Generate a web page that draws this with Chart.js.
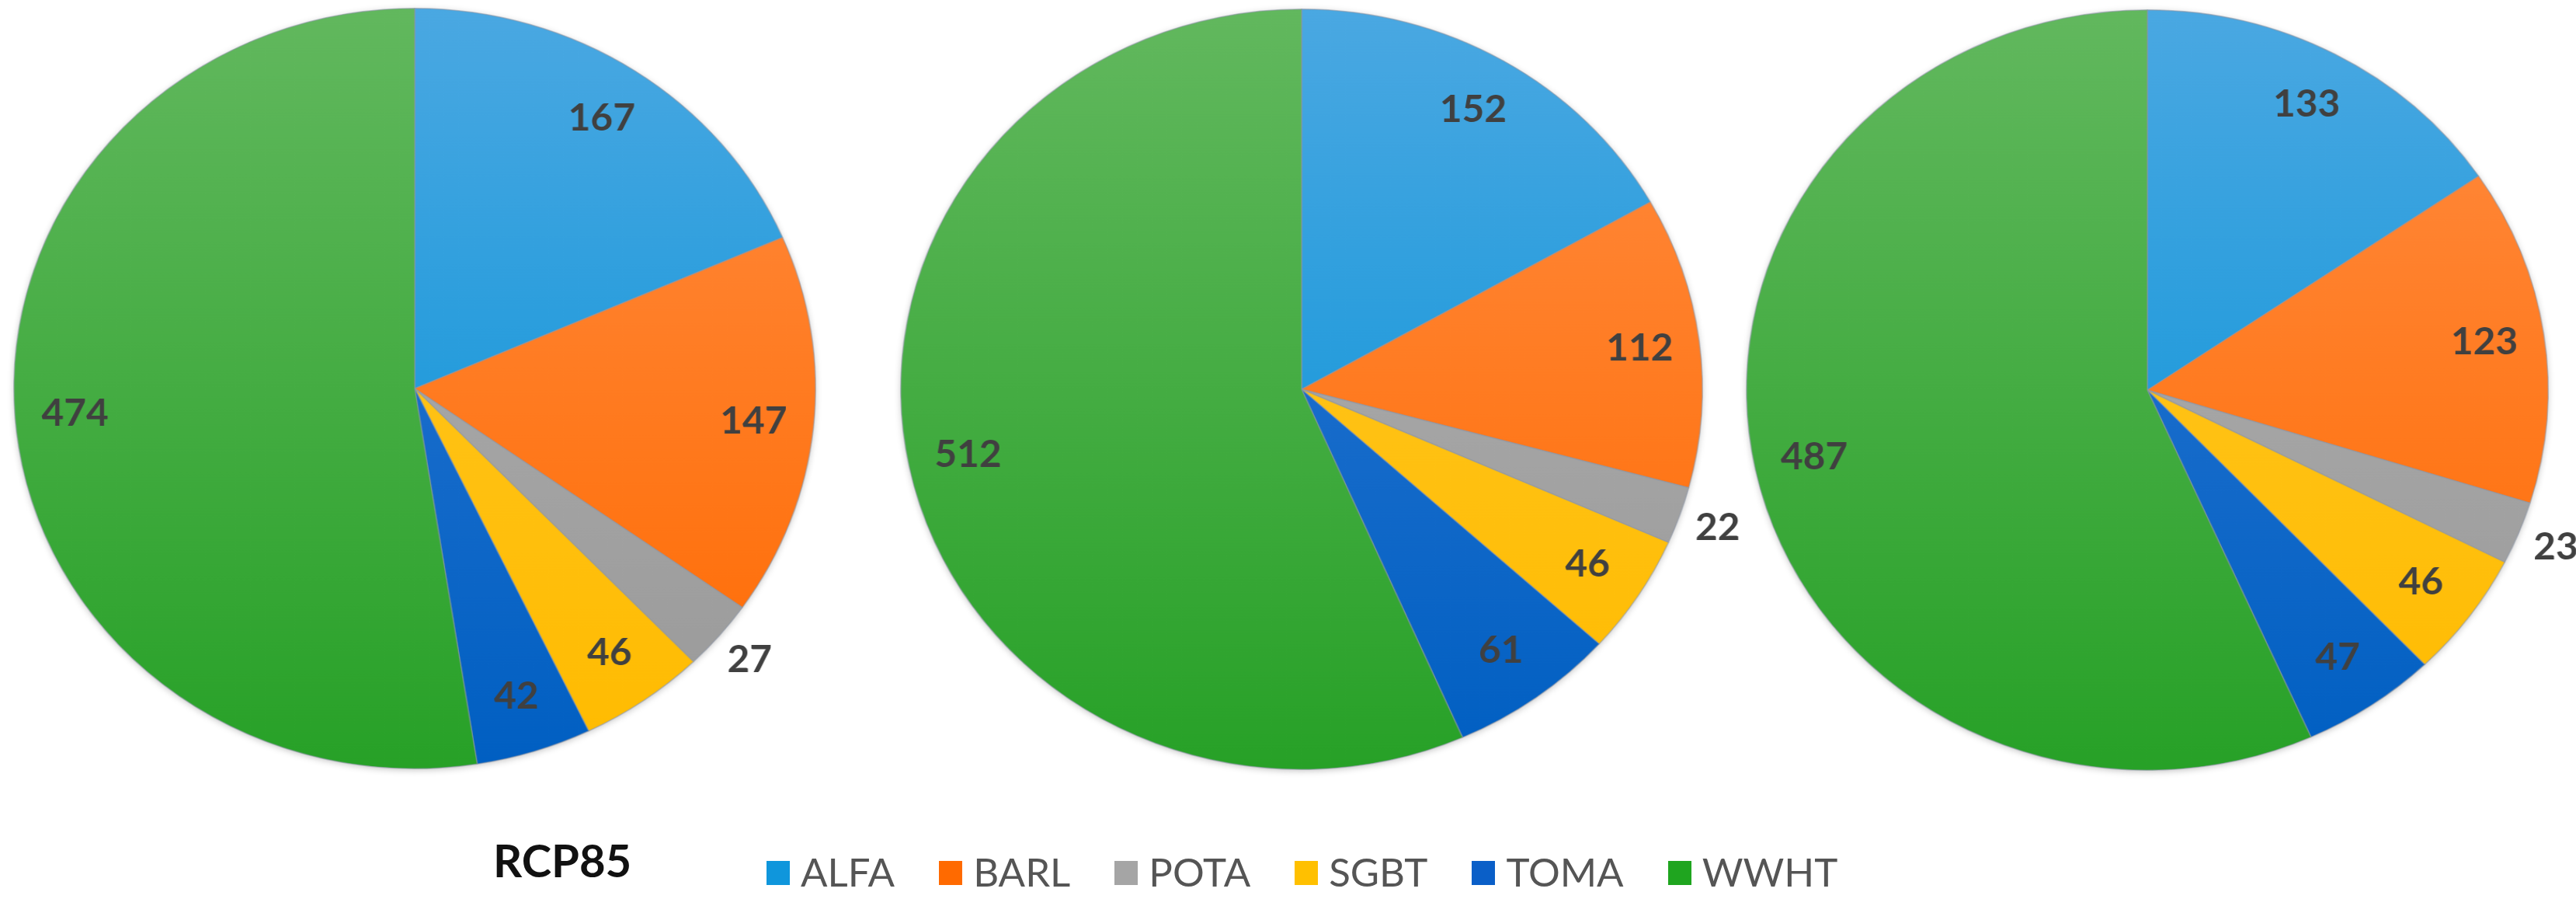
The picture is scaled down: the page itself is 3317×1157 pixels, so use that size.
<!DOCTYPE html>
<html>
<head>
<meta charset="utf-8">
<script src="https://cdn.jsdelivr.net/npm/chart.js@4"></script>
<style>
  html, body { margin: 0; padding: 0; background: #fff; }
  body { width: 3317px; height: 1157px; position: relative; overflow: hidden; font-family: Lato, sans-serif; }
  .pie { position: absolute; width: 1100px; height: 1000px; transform: scaleX(1.055); transform-origin: 50% 50%; }
  #title { position: absolute; left: 635px; top: 1078px; font: bold 58px/1 Lato, sans-serif; color: #111; }
  #legend { position: absolute; left: 987px; top: 1096px; display: flex; align-items: flex-start; }
  .item { display: flex; align-items: flex-start; margin-right: 57px; }
  .swatch { width: 30px; height: 31px; margin-top: 12px; margin-right: 14px; }
  .item span.txt { font: 51px/1 Lato, sans-serif; color: #555; }
</style>
</head>
<body>
<div class="pie" style="left:-16px; top:0px;"><canvas id="pie1"></canvas></div>
<div class="pie" style="left:1126px; top:1px;"><canvas id="pie2"></canvas></div>
<div class="pie" style="left:2215px; top:2px;"><canvas id="pie3"></canvas></div>
<div id="title">RCP85</div>
<div id="legend"></div>

<script>
const categories = ['ALFA', 'BARL', 'POTA', 'SGBT', 'TOMA', 'WWHT'];
const pie1Values = [167, 147, 27, 46, 42, 474];
const pie2Values = [152, 112, 22, 46, 61, 512];
const pie3Values = [133, 123, 23, 46, 47, 487];

// light (top) and dark (bottom) shade of each slice, excel-ish gradient
const topColors = ['#4aa8e2', '#ff8c42', '#b2b2b2', '#ffc929', '#3079d4', '#62b85e'];
const bottomColors = ['#0090d6', '#ff6a00', '#999999', '#ffbb00', '#005fc2', '#27a127'];
const swatchColors = ['#0f96dc', '#ff6a00', '#a5a5a5', '#ffc000', '#0a5fc8', '#1fa51f'];

function sliceColor(c) {
  const chart = c.chart;
  const area = chart.chartArea;
  if (!area) return bottomColors[c.dataIndex];
  const g = chart.ctx.createLinearGradient(0, area.top, 0, area.bottom);
  g.addColorStop(0, topColors[c.dataIndex]);
  g.addColorStop(1, bottomColors[c.dataIndex]);
  return g;
}

// soft shadow round the pie
const pieShadow = {
  id: 'pieShadow',
  beforeDatasetsDraw(chart) {
    const arc = chart.getDatasetMeta(0).data[0];
    if (!arc) return;
    const ctx = chart.ctx;
    ctx.save();
    ctx.shadowColor = 'rgba(0,0,0,0.28)';
    ctx.shadowBlur = 10;
    ctx.shadowOffsetY = 2;
    ctx.fillStyle = '#ccc';
    ctx.beginPath();
    ctx.arc(arc.x, arc.y, arc.outerRadius - 1, 0, Math.PI * 2);
    ctx.fill();
    ctx.restore();
  }
};

// value labels, small slices go just outside the rim
const valueLabels = {
  id: 'valueLabels',
  afterDatasetsDraw(chart) {
    const ctx = chart.ctx;
    const values = chart.data.datasets[0].data;
    const total = values.reduce((a, b) => a + b, 0);
    ctx.save();
    ctx.font = 'bold 47px Lato, sans-serif';
    ctx.fillStyle = '#404040';
    ctx.textAlign = 'center';
    ctx.textBaseline = 'middle';
    chart.getDatasetMeta(0).data.forEach((arc, i) => {
      const p = arc.getProps(['x', 'y', 'startAngle', 'endAngle', 'outerRadius'], true);
      const mid = (p.startAngle + p.endAngle) / 2;
      const f = values[i] / total < 0.035 ? 1.1 : 0.85;
      const r = p.outerRadius * f;
      ctx.fillText(String(values[i]), p.x + Math.cos(mid) * r, p.y + Math.sin(mid) * r);
    });
    ctx.restore();
  }
};

function makePie(id, values) {
  new Chart(document.getElementById(id), {
    type: 'pie',
    data: {
      labels: categories,
      datasets: [{
        data: values,
        backgroundColor: sliceColor,
        borderColor: 'rgba(140,150,165,0.55)',
        borderWidth: 1.5
      }]
    },
    options: {
      responsive: true,
      maintainAspectRatio: false,
      animation: false,
      layout: { padding: 10 },
      plugins: {
        legend: { display: false },
        tooltip: { enabled: false }
      }
    },
    plugins: [pieShadow, valueLabels]
  });
}

makePie('pie1', pie1Values);
makePie('pie2', pie2Values);
makePie('pie3', pie3Values);

// shared legend under the pies
const legend = document.getElementById('legend');
categories.forEach((name, i) => {
  const item = document.createElement('div');
  item.className = 'item';
  item.innerHTML = '<span class="swatch" style="background:' + swatchColors[i] + '"></span><span class="txt">' + name + '</span>';
  legend.appendChild(item);
});
</script>
</body>
</html>
